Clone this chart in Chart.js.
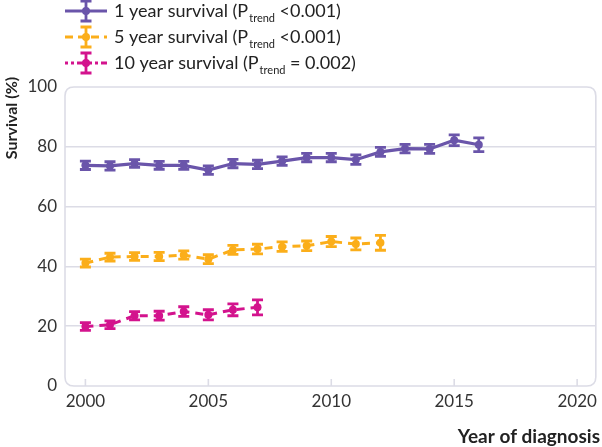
<!DOCTYPE html>
<html>
<head>
<meta charset="utf-8">
<script src="https://cdn.jsdelivr.net/npm/chart.js@4.4.1/dist/chart.umd.min.js"></script>
<style>
  body { margin: 0; background: #fff; }
  #wrap { width: 602px; height: 447px; }
</style>
</head>
<body>
<div id="wrap"><canvas id="survChart" width="602" height="447"></canvas></div>
<script>
// Data
const years1 = [2000, 2001, 2002, 2003, 2004, 2005, 2006, 2007, 2008, 2009, 2010, 2011, 2012, 2013, 2014, 2015, 2016];
const surv1 = [73.8, 73.6, 74.4, 73.8, 73.8, 72.2, 74.4, 74.1, 75.2, 76.4, 76.4, 75.7, 78.3, 79.4, 79.3, 82.2, 80.7];
const err1 = [1.4, 1.4, 1.3, 1.3, 1.3, 1.4, 1.4, 1.4, 1.4, 1.4, 1.4, 1.6, 1.5, 1.4, 1.5, 1.8, 2.3];

const years5 = [2000, 2001, 2002, 2003, 2004, 2005, 2006, 2007, 2008, 2009, 2010, 2011, 2012];
const surv5 = [41.1, 43.1, 43.3, 43.3, 43.8, 42.4, 45.5, 45.8, 46.6, 46.9, 48.3, 47.5, 47.9];
const err5 = [1.3, 1.3, 1.3, 1.4, 1.4, 1.5, 1.5, 1.6, 1.6, 1.6, 1.7, 2.0, 2.5];

const years10 = [2000, 2001, 2002, 2003, 2004, 2005, 2006, 2007];
const surv10 = [19.9, 20.5, 23.5, 23.5, 24.9, 23.8, 25.5, 26.3];
const err10 = [1.3, 1.3, 1.4, 1.5, 1.6, 1.7, 2.0, 2.5];

const xTicks = [2000, 2005, 2010, 2015, 2020];
const yTicks = [0, 20, 40, 60, 80, 100];

// legend text: main part, subscript, rest
const legendText = [
  ["1 year survival (P", "trend", " <0.001)"],
  ["5 year survival (P", "trend", " <0.001)"],
  ["10 year survival (P", "trend", " = 0.002)"]
];

const purple = "#6a55aa";
const orange = "#fbae1a";
const magenta = "#d3138d";
const gridCol = "#dcdce6";
const FONT = "Lato, 'Open Sans', sans-serif";

function toPoints(xs, ys) {
  return xs.map((x, i) => ({ x: x, y: ys[i] }));
}

const errs = [err1, err5, err10];
const legendDash = [[], [8, 5], [3, 3, 3, 3, 8, 4]];

// error bars, frame, x tick marks, axis titles, legend
const extras = {
  id: "extras",
  beforeDraw(chart) {
    const ctx = chart.ctx;
    const a = chart.chartArea;
    const xs = chart.scales.x;
    ctx.save();
    // rounded frame
    const r = 9;
    const l = a.left, t = a.top, rt = a.right, b = a.bottom;
    ctx.strokeStyle = gridCol;
    ctx.lineWidth = 1.6;
    ctx.beginPath();
    ctx.moveTo(l + r, t);
    ctx.lineTo(rt - r, t);
    ctx.quadraticCurveTo(rt, t, rt, t + r);
    ctx.lineTo(rt, b - r);
    ctx.quadraticCurveTo(rt, b, rt - r, b);
    ctx.lineTo(l + r, b);
    ctx.quadraticCurveTo(l, b, l, b - r);
    ctx.lineTo(l, t + r);
    ctx.quadraticCurveTo(l, t, l + r, t);
    ctx.stroke();
    // x tick marks
    xTicks.forEach(v => {
      const px = xs.getPixelForValue(v);
      ctx.beginPath();
      ctx.moveTo(px, b);
      ctx.lineTo(px, b - 7);
      ctx.stroke();
    });
    ctx.restore();
  },
  afterDatasetsDraw(chart) {
    const ctx = chart.ctx;
    const xs = chart.scales.x, ys = chart.scales.y;
    ctx.save();
    chart.data.datasets.forEach((ds, di) => {
      ctx.strokeStyle = ds.borderColor;
      ctx.lineWidth = 2.8;
      ds.data.forEach((p, i) => {
        const px = xs.getPixelForValue(p.x);
        const top = ys.getPixelForValue(p.y + errs[di][i]);
        const bot = ys.getPixelForValue(p.y - errs[di][i]);
        ctx.beginPath();
        ctx.moveTo(px, top); ctx.lineTo(px, bot);
        ctx.moveTo(px - 5.5, top); ctx.lineTo(px + 5.5, top);
        ctx.moveTo(px - 5.5, bot); ctx.lineTo(px + 5.5, bot);
        ctx.stroke();
      });
    });
    ctx.restore();
  },
  afterDraw(chart) {
    const ctx = chart.ctx;
    ctx.save();
    // axis titles
    ctx.fillStyle = "#222";
    ctx.font = "bold 19px " + FONT;
    ctx.textAlign = "right";
    ctx.textBaseline = "middle";
    ctx.fillText("Year of diagnosis", 600, 437);
    ctx.font = "bold 16px " + FONT;
    ctx.translate(12, 118);
    ctx.rotate(-Math.PI / 2);
    ctx.textAlign = "center";
    ctx.fillText("Survival (%)", 0, 0);
    ctx.restore();

    // legend
    ctx.save();
    const rowY = [11, 37, 63];
    chart.data.datasets.forEach((ds, di) => {
      const y = rowY[di];
      ctx.strokeStyle = ds.borderColor;
      ctx.fillStyle = ds.borderColor;
      ctx.lineWidth = 3;
      ctx.setLineDash(legendDash[di]);
      ctx.beginPath();
      ctx.moveTo(65, y); ctx.lineTo(107, y);
      ctx.stroke();
      ctx.setLineDash([]);
      ctx.lineWidth = 2.8;
      ctx.beginPath();
      ctx.moveTo(86, y - 10); ctx.lineTo(86, y + 10);
      ctx.moveTo(80.5, y - 10); ctx.lineTo(91.5, y - 10);
      ctx.moveTo(80.5, y + 10); ctx.lineTo(91.5, y + 10);
      ctx.stroke();
      ctx.beginPath();
      ctx.arc(86, y, 4, 0, Math.PI * 2);
      ctx.fill();

      const parts = legendText[di];
      ctx.fillStyle = "#222";
      ctx.textBaseline = "middle";
      ctx.textAlign = "left";
      let x = 114;
      ctx.font = "18px " + FONT;
      ctx.fillText(parts[0], x, y);
      x += ctx.measureText(parts[0]).width + 1;
      ctx.font = "11px " + FONT;
      ctx.fillText(parts[1], x, y + 7);
      x += ctx.measureText(parts[1]).width;
      ctx.font = "18px " + FONT;
      ctx.fillText(parts[2], x, y);
    });
    ctx.restore();
  }
};

new Chart(document.getElementById("survChart"), {
  type: "line",
  data: {
    datasets: [
      {
        label: "1 year survival",
        data: toPoints(years1, surv1),
        borderColor: purple,
        backgroundColor: purple,
        borderWidth: 3.2,
        pointRadius: 4,
        pointBackgroundColor: purple,
        pointBorderWidth: 0
      },
      {
        label: "5 year survival",
        data: toPoints(years5, surv5),
        borderColor: orange,
        backgroundColor: orange,
        borderWidth: 3,
        borderDash: [8, 6],
        pointRadius: 4,
        pointBackgroundColor: orange,
        pointBorderWidth: 0
      },
      {
        label: "10 year survival",
        data: toPoints(years10, surv10),
        borderColor: magenta,
        backgroundColor: magenta,
        borderWidth: 3,
        borderDash: [8, 6],
        pointRadius: 4,
        pointBackgroundColor: magenta,
        pointBorderWidth: 0
      }
    ]
  },
  options: {
    responsive: false,
    animation: false,
    layout: { padding: { top: 87, right: 2, left: 0, bottom: 0 } },
    plugins: {
      legend: { display: false },
      tooltip: { enabled: false }
    },
    scales: {
      x: {
        type: "linear",
        min: 1999.17,
        max: 2020.76,
        afterBuildTicks: s => { s.ticks = xTicks.map(v => ({ value: v })); },
        afterFit: s => { s.height = 61; },
        grid: { display: false, drawTicks: false },
        border: { display: false },
        ticks: {
          padding: 5,
          color: "#333",
          font: { family: FONT, size: 17 },
          callback: v => String(v)
        }
      },
      y: {
        min: 0,
        max: 100,
        afterBuildTicks: s => { s.ticks = yTicks.map(v => ({ value: v })); },
        afterFit: s => { s.width = 65; },
        grid: {
          drawTicks: false,
          lineWidth: 1.6,
          color: c => (c.tick && (c.tick.value === 0 || c.tick.value === 100)) ? "rgba(0,0,0,0)" : gridCol
        },
        border: { display: false },
        ticks: {
          padding: 8,
          color: "#333",
          font: { family: FONT, size: 17 }
        }
      }
    }
  },
  plugins: [extras]
});
</script>
</body>
</html>
